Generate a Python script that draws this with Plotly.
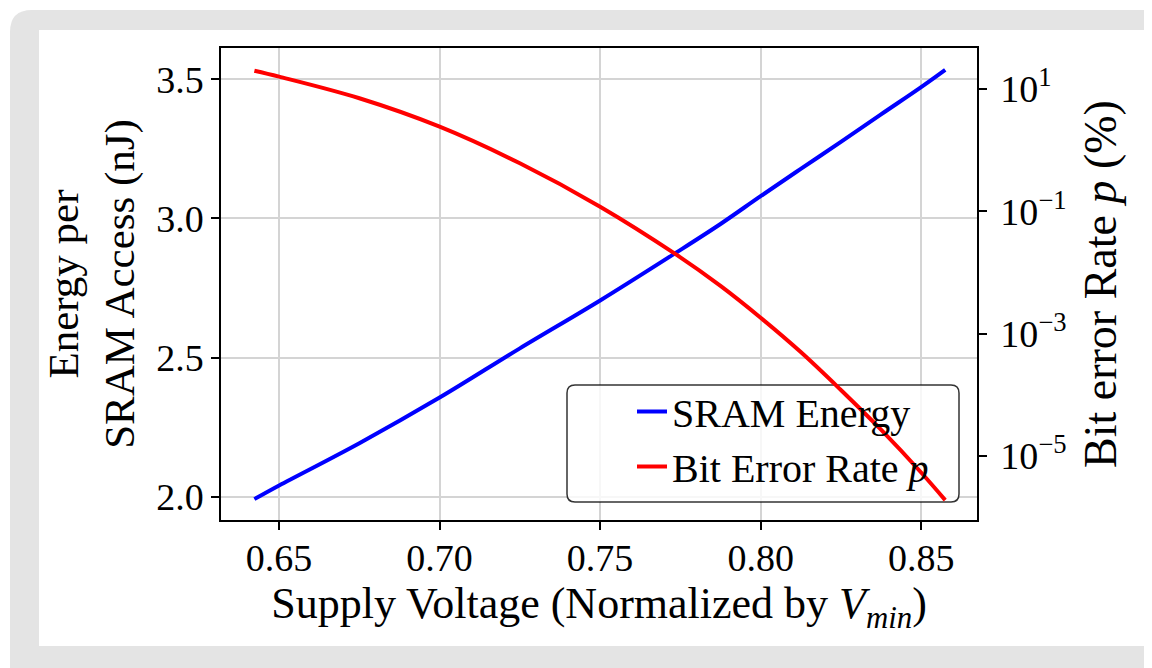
import plotly.graph_objects as go

# ---- data ----
voltage = [0.6423, 0.65, 0.675, 0.70, 0.725, 0.75, 0.7734, 0.7875, 0.80,
           0.8125, 0.825, 0.8375, 0.85, 0.8575]
sram_energy_nj = [1.991, 2.040, 2.192, 2.356, 2.533, 2.705, 2.875, 2.980, 3.080,
                  3.178, 3.275, 3.374, 3.472, 3.534]
bit_error_pct = [19.9, 15.9, 7.05, 2.42, 0.61, 0.119, 0.0201, 0.00603, 0.00182,
                 5.0e-4, 1.2e-4, 2.69e-5, 5.37e-6, 1.9e-6]

x_ticks = [0.65, 0.70, 0.75, 0.80, 0.85]
x_ticklabels = ["0.65", "0.70", "0.75", "0.80", "0.85"]
y_ticks = [2.0, 2.5, 3.0, 3.5]
y_ticklabels = ["2.0", "2.5", "3.0", "3.5"]
y2_ticks = [10, 0.1, 0.001, 1e-5]
y2_ticklabels = ["10<sup>1</sup>", "10<sup>\u22121</sup>", "10<sup>\u22123</sup>", "10<sup>\u22125</sup>"]

# ---- layout geometry (pixels, reference coordinates; page body adds an 8px margin) ----
OFF = 8
W, H = 1152 - OFF, 668 - OFF
L, R, T, B = 221, 977, 48, 520          # plot area in reference pixels
FONT = "Liberation Serif"
TICK_FS = 38
LEG_FS = 40

X_RANGE = [0.6319, 0.8674]
Y_RANGE = [1.916, 3.6125]


def px(x):
    return (x - L) / (R - L)


def py(y):
    return (B - y) / (B - T)


def dx(x):
    return X_RANGE[0] + px(x) * (X_RANGE[1] - X_RANGE[0])


def dy(y):
    return Y_RANGE[0] + py(y) * (Y_RANGE[1] - Y_RANGE[0])


def rounded_path(x0, y0, x1, y1, r, cx, cy):
    pts = [
        ("M", cx(x0 + r), cy(y0)),
        ("L", cx(x1 - r), cy(y0)),
        ("Q", cx(x1), cy(y0), cx(x1), cy(y0 + r)),
        ("L", cx(x1), cy(y1 - r)),
        ("Q", cx(x1), cy(y1), cx(x1 - r), cy(y1)),
        ("L", cx(x0 + r), cy(y1)),
        ("Q", cx(x0), cy(y1), cx(x0), cy(y1 - r)),
        ("L", cx(x0), cy(y0 + r)),
        ("Q", cx(x0), cy(y0), cx(x0 + r), cy(y0)),
    ]
    s = ""
    for p in pts:
        s += p[0] + " " + " ".join(f"{v:.6f}" for v in p[1:]) + " "
    return s + "Z"


fig = go.Figure()
fig.add_trace(go.Scatter(x=voltage, y=sram_energy_nj, mode="lines", name="SRAM Energy",
                         line=dict(color="#0000ff", width=4, shape="spline"),
                         legendgroup="a", yaxis="y"))
fig.add_trace(go.Scatter(x=voltage, y=bit_error_pct, mode="lines",
                         name="Bit Error Rate <i>p</i>",
                         line=dict(color="#ff0000", width=4, shape="spline"),
                         legendgroup="b", yaxis="y2"))

grid = "#d4d4d4"
fig.update_layout(
    width=W, height=H, autosize=False,
    margin=dict(l=L - OFF, r=W - (R - OFF), t=T - OFF, b=H - (B - OFF), pad=0),
    paper_bgcolor="white", plot_bgcolor="rgba(0,0,0,0)",
    font=dict(family=FONT, size=TICK_FS, color="black"),
    xaxis=dict(range=X_RANGE, tickvals=x_ticks, ticktext=x_ticklabels,
               showgrid=True, gridcolor=grid, gridwidth=1.5, zeroline=False,
               showline=True, linecolor="black", linewidth=1.5, mirror=True,
               ticks="outside", ticklen=8, tickwidth=1.5, tickcolor="black",
               tickfont=dict(size=TICK_FS), ticklabelstandoff=-4,
               title=dict(text="Supply Voltage (Normalized by <i>V</i><sub><i>min</i></sub>)",
                          font=dict(size=44), standoff=0)),
    yaxis=dict(range=Y_RANGE, tickvals=y_ticks, ticktext=y_ticklabels,
               showgrid=True, gridcolor=grid, gridwidth=1.5, zeroline=False,
               showline=True, linecolor="black", linewidth=1.5, mirror=True,
               ticks="outside", ticklen=8, tickwidth=1.5, tickcolor="black",
               tickfont=dict(size=TICK_FS),
               title=dict(text="Energy per<br>SRAM Access (nJ)", font=dict(size=43),
                          standoff=8)),
    yaxis2=dict(overlaying="y", side="right", type="log", range=[-6.046, 1.670],
                tickvals=y2_ticks, ticktext=y2_ticklabels, showgrid=False, zeroline=False,
                showline=True, linecolor="black", linewidth=1.5,
                ticks="outside", ticklen=8, tickwidth=1.5, tickcolor="black",
                tickfont=dict(size=TICK_FS), ticklabelstandoff=6,
                title=dict(text="Bit error Rate <i>p</i> (%)", font=dict(size=46),
                           standoff=18)),
    legend=dict(x=px(632), y=py(379), xanchor="left", yanchor="top",
                bgcolor="rgba(0,0,0,0)", borderwidth=0, tracegroupgap=0,
                font=dict(size=LEG_FS, family=FONT)),
    showlegend=True,
)

shapes = [
    dict(type="path", xref="paper", yref="paper", layer="below",
         path=rounded_path(10, 10, 1200, 720, 22, px, py),
         fillcolor="#e4e4e4", line=dict(width=0)),
    dict(type="rect", xref="paper", yref="paper", layer="below",
         x0=px(39), x1=px(1144), y0=py(646), y1=py(30),
         fillcolor="white", line=dict(width=0)),
    dict(type="path", xref="x", yref="y", layer="between",
         path=rounded_path(567, 385, 959, 502, 8, dx, dy),
         fillcolor="rgba(255,255,255,0.8)", line=dict(color="rgba(0,0,0,0.8)", width=1.5)),
]
fig.update_layout(shapes=shapes)

fig.write_html("out.html")
